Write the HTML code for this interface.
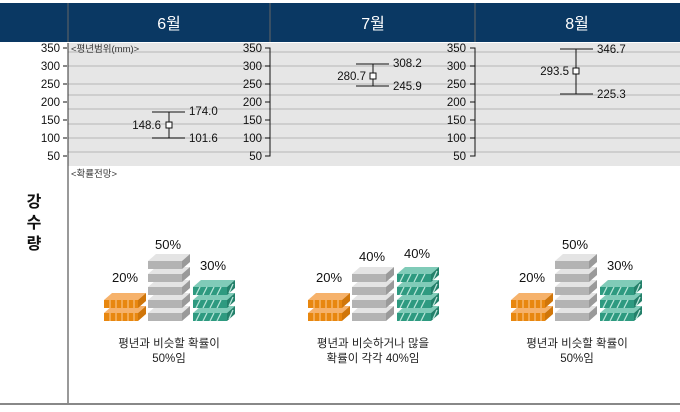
<!DOCTYPE html>
<html><head><meta charset="utf-8"><style>
body{margin:0;background:#fff;width:680px;height:407px;overflow:hidden;font-family:"Liberation Sans","Noto Sans CJK KR",sans-serif}
</style></head><body>
<svg width="680" height="407" xmlns="http://www.w3.org/2000/svg" font-family="Liberation Sans, Noto Sans CJK KR, sans-serif">
<defs>
<g id="o"><polygon points="0,7 8,0 42,0 34,7" fill="#f6b26b"/><rect x="0" y="7" width="34" height="8" fill="#e8870f"/><polygon points="34,7 42,0 42,8 34,15" fill="#d0760a"/>
<path d="M6,7v8M12,7v8M18,7v8M24,7v8M30,7v8" stroke="#f8c080" stroke-width="1.2"/></g>
<g id="g"><polygon points="0,7 8,0 42,0 34,7" fill="#e4e4e4"/><rect x="0" y="7" width="34" height="8" fill="#b3b3b3"/><polygon points="34,7 42,0 42,8 34,15" fill="#9a9a9a"/></g>
<g id="t"><polygon points="0,7 8,0 42,0 34,7" fill="#80cbb8"/><rect x="0" y="7" width="34" height="8" fill="#2e9a80"/><polygon points="34,7 42,0 42,8 34,15" fill="#23806a"/>
<path d="M3,15l4,-8M10,15l4,-8M17,15l4,-8M24,15l4,-8M36,13l4,-9" stroke="#b8e4d8" stroke-width="1.3"/></g>
</defs>
<rect x="0" y="3" width="680" height="39" fill="#0a3863"/>
<line x1="68" y1="3" x2="68" y2="42" stroke="#666"/><line x1="270" y1="3" x2="270" y2="42" stroke="#666"/><line x1="475" y1="3" x2="475" y2="42" stroke="#666"/>
<g fill="#fff" font-size="16" text-anchor="middle"><text x="169" y="29">6월</text><text x="373" y="29">7월</text><text x="577" y="29">8월</text></g>
<rect x="68" y="43" width="612" height="123" fill="#e6e6e6"/>
<g stroke="#c6c6c6" stroke-width="1.5">
<line x1="68" y1="52" x2="680" y2="52"/><line x1="68" y1="66" x2="680" y2="66"/><line x1="68" y1="84" x2="680" y2="84"/><line x1="68" y1="95" x2="680" y2="95"/><line x1="68" y1="109" x2="680" y2="109"/><line x1="68" y1="124" x2="680" y2="124"/><line x1="68" y1="138" x2="680" y2="138"/><line x1="68" y1="152" x2="680" y2="152"/></g>
<g font-size="11.5" fill="#111" text-anchor="end">
<text x="60" y="52">350</text><text x="60" y="70">300</text><text x="60" y="88">250</text><text x="60" y="106">200</text><text x="60" y="124">150</text><text x="60" y="142">100</text><text x="60" y="160">50</text>
<text x="262" y="52">350</text><text x="262" y="70">300</text><text x="262" y="88">250</text><text x="262" y="106">200</text><text x="262" y="124">150</text><text x="262" y="142">100</text><text x="262" y="160">50</text>
<text x="466" y="52">350</text><text x="466" y="70">300</text><text x="466" y="88">250</text><text x="466" y="106">200</text><text x="466" y="124">150</text><text x="466" y="142">100</text><text x="466" y="160">50</text>
</g>
<g stroke="#111" fill="none">
<path d="M63,48h4M63,66h4M63,84h4M63,102h4M63,120h4M63,138h4M63,156h4"/>
<path d="M265,48h5v108h-5M265,66h5M265,84h5M265,102h5M265,120h5M265,138h5"/>
<path d="M470,48h5v108h-5M470,66h5M470,84h5M470,102h5M470,120h5M470,138h5"/>
</g>
<line x1="68" y1="43" x2="68" y2="404" stroke="#333"/>
<text x="71" y="52" font-size="9.5" fill="#333">&lt;평년범위(mm)&gt;</text>
<text x="71" y="177" font-size="9.5" fill="#333">&lt;확률전망&gt;</text>
<g stroke="#111" fill="none">
<path d="M152,112h33M152,138h33M169,112v26"/><rect x="166" y="122" width="6" height="6" fill="#fff"/>
<path d="M356,64h33M356,86h33M373,64v22"/><rect x="370" y="73" width="6" height="6" fill="#fff"/>
<path d="M560,49h33M560,94h33M576,49v45"/><rect x="573" y="68" width="6" height="6" fill="#fff"/>
</g>
<g font-size="11.5" fill="#111">
<text x="189" y="115">174.0</text><text x="189" y="142">101.6</text><text x="161" y="129" text-anchor="end">148.6</text>
<text x="393" y="67">308.2</text><text x="393" y="90">245.9</text><text x="366" y="80" text-anchor="end">280.7</text>
<text x="597" y="53">346.7</text><text x="597" y="98">225.3</text><text x="569" y="75" text-anchor="end">293.5</text>
</g>
<g font-size="16" font-weight="bold" fill="#111" text-anchor="middle"><text x="34" y="207">강</text><text x="34" y="228">수</text><text x="34" y="249">량</text></g>
<g><use href="#o" x="104" y="306"/><use href="#o" x="104" y="293"/>
<use href="#g" x="148" y="306"/><use href="#g" x="148" y="293"/><use href="#g" x="148" y="280"/><use href="#g" x="148" y="267"/><use href="#g" x="148" y="254"/>
<use href="#t" x="193" y="306"/><use href="#t" x="193" y="293"/><use href="#t" x="193" y="280"/></g>
<g><use href="#o" x="308" y="306"/><use href="#o" x="308" y="293"/>
<use href="#g" x="352" y="306"/><use href="#g" x="352" y="293"/><use href="#g" x="352" y="280"/><use href="#g" x="352" y="267"/>
<use href="#t" x="397" y="306"/><use href="#t" x="397" y="293"/><use href="#t" x="397" y="280"/><use href="#t" x="397" y="267"/></g>
<g><use href="#o" x="511" y="306"/><use href="#o" x="511" y="293"/>
<use href="#g" x="555" y="306"/><use href="#g" x="555" y="293"/><use href="#g" x="555" y="280"/><use href="#g" x="555" y="267"/><use href="#g" x="555" y="254"/>
<use href="#t" x="600" y="306"/><use href="#t" x="600" y="293"/><use href="#t" x="600" y="280"/></g>
<g font-size="13" fill="#111" text-anchor="middle">
<text x="125" y="282">20%</text><text x="168" y="249">50%</text><text x="213" y="270">30%</text>
<text x="329" y="282">20%</text><text x="372" y="261">40%</text><text x="417" y="258">40%</text>
<text x="532" y="282">20%</text><text x="575" y="249">50%</text><text x="620" y="270">30%</text>
</g>
<g font-size="11.5" fill="#222" text-anchor="middle">
<text x="169" y="347">평년과 비슷할 확률이</text><text x="169" y="362">50%임</text>
<text x="373" y="347">평년과 비슷하거나 많을</text><text x="373" y="362">확률이 각각 40%임</text>
<text x="577" y="347">평년과 비슷할 확률이</text><text x="577" y="362">50%임</text>
</g>
<line x1="0" y1="404" x2="680" y2="404" stroke="#888" stroke-width="2"/>
</svg>
</body></html>
